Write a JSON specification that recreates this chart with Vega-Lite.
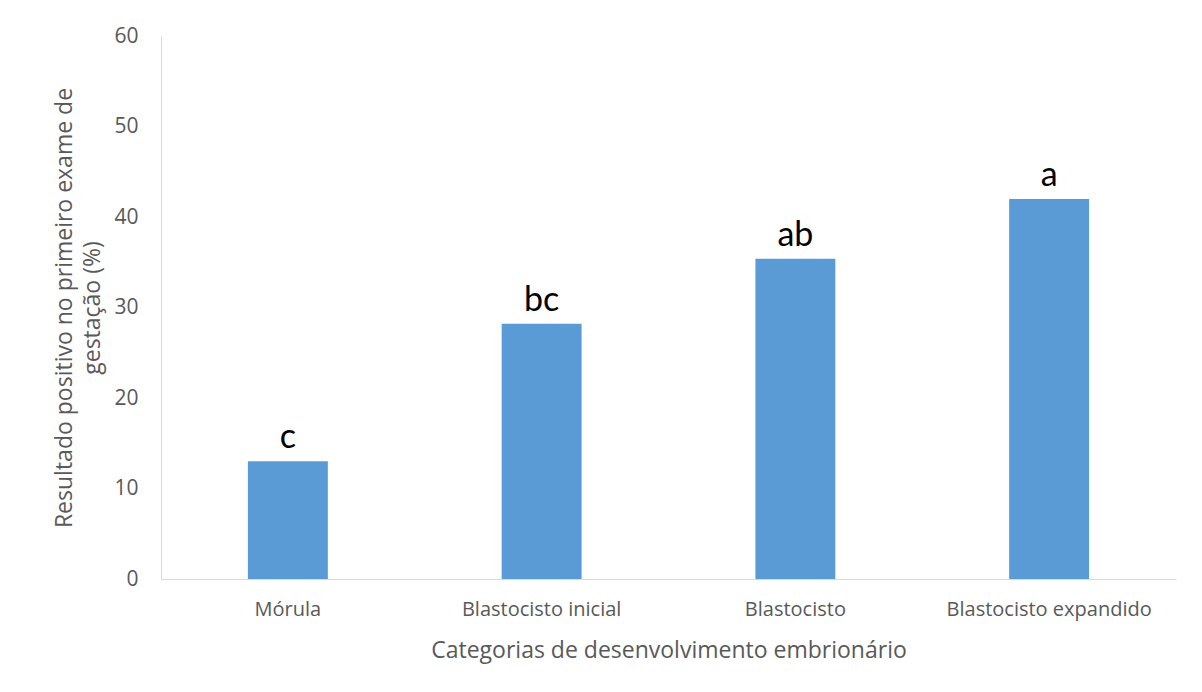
{
  "$schema": "https://vega.github.io/schema/vega-lite/v6.json",
  "width": 1015,
  "height": 543,
  "autosize": {"type": "none"},
  "padding": {"left": 161, "top": 36, "right": 26, "bottom": 113},
  "background": "white",
  "config": {"view": {"stroke": null}},
  "data": {"values": [
    {"cat": "Mórula", "v": 13.0, "letra": "c"},
    {"cat": "Blastocisto inicial", "v": 28.2, "letra": "bc"},
    {"cat": "Blastocisto", "v": 35.4, "letra": "ab"},
    {"cat": "Blastocisto expandido", "v": 42.0, "letra": "a"}
  ]},
  "encoding": {
    "x": {"field": "cat", "type": "nominal", "sort": null,
      "scale": {"paddingInner": 0.685, "paddingOuter": 0.3425},
      "axis": {"title": "Categorias de desenvolvimento embrionário", "labelAngle": 0, "labelLimit": 400,
        "domainColor": "#d9d9d9", "ticks": false, "labelPadding": 20,
        "labelFont": "Open Sans", "labelFontSize": 20, "labelColor": "#595959",
        "titleFont": "Open Sans", "titleFontSize": 23, "titleFontWeight": "normal", "titleColor": "#595959", "titlePadding": 20}},
    "y": {"field": "v", "type": "quantitative",
      "scale": {"domain": [0, 60]},
      "axis": {"values": [0, 10, 20, 30, 40, 50, 60], "grid": false, "ticks": false,
        "domainColor": "#d9d9d9", "labelPadding": 23,
        "labelFont": "Open Sans", "labelFontSize": 21, "labelColor": "#595959",
        "title": ["Resultado positivo no primeiro exame de", "gestação (%)"],
        "titleFont": "Open Sans", "titleFontSize": 23, "titleFontWeight": "normal", "titleColor": "#595959",
        "titleLineHeight": 28, "titlePadding": 9}}
  },
  "layer": [
    {"mark": {"type": "bar", "color": "#5b9bd5"}},
    {"mark": {"type": "text", "baseline": "alphabetic", "dy": -13, "font": "Lato", "fontSize": 34, "color": "#000000"},
      "encoding": {"text": {"field": "letra"}}}
  ]
}
